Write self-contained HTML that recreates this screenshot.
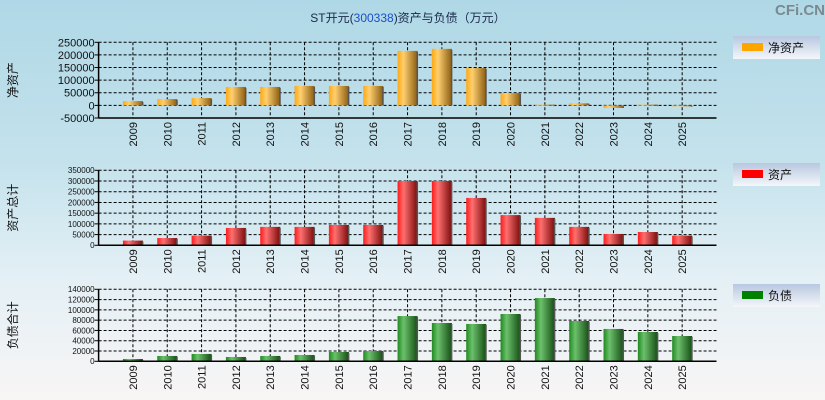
<!DOCTYPE html>
<html><head><meta charset="utf-8">
<style>
html,body{margin:0;padding:0;}
body{width:825px;height:400px;overflow:hidden;background:linear-gradient(#afd8e6 0%,#c4e2ec 40%,#e4f0f5 70%,#f8f5f5 100%);font-family:"Liberation Sans","Noto Sans CJK SC",sans-serif;}
</style></head><body>
<svg id="chart" width="825" height="400" xmlns="http://www.w3.org/2000/svg" style="position:absolute;left:0;top:0">
<defs>
<linearGradient id="gOr" x1="0" x2="1" y1="0" y2="0"><stop offset="0" stop-color="#ffa812"/><stop offset="0.3" stop-color="#ffcf70"/><stop offset="1" stop-color="#8a5c10"/></linearGradient>
<linearGradient id="gRd" x1="0" x2="1" y1="0" y2="0"><stop offset="0" stop-color="#ff1a1a"/><stop offset="0.3" stop-color="#ff7070"/><stop offset="1" stop-color="#7a0a0a"/></linearGradient>
<linearGradient id="gGr" x1="0" x2="1" y1="0" y2="0"><stop offset="0" stop-color="#1f8a1f"/><stop offset="0.3" stop-color="#6cc06c"/><stop offset="1" stop-color="#144d14"/></linearGradient>
<linearGradient id="gLeg" x1="0" x2="0" y1="0" y2="1"><stop offset="0" stop-color="#b8c8e0"/><stop offset="1" stop-color="#f4f6fa"/></linearGradient>
</defs>
<text x="408" y="22" text-anchor="middle" font-size="12" fill="#1a2a4a">ST开元(<tspan fill="#1a50c8">300338</tspan>)资产与负债（万元）</text>
<text x="800" y="15" text-anchor="middle" font-size="15" font-weight="bold" fill="#7a8a90">CFi.CN</text>
</svg>
<script>
var categories=["2009","2010","2011","2012","2013","2014","2015","2016","2017","2018","2019","2020","2021","2022","2023","2024","2025"];
var netAssets=[17000,25000,29000,73000,73000,77000,77000,77000,216000,224000,148000,49000,3000,8000,-10000,3000,-3000];
var totalAssets=[22000,34000,45000,81000,86000,86000,95000,95000,300000,300000,221000,141000,128000,86000,53000,62000,45000];
var totalLiabilities=[4500,10400,14300,8400,10400,12300,18100,20000,88000,74500,72600,92000,123000,78400,62900,57000,49200];
var ticks1=[-50000,0,50000,100000,150000,200000,250000];
var ticks2=[0,50000,100000,150000,200000,250000,300000,350000];
var ticks3=[0,20000,40000,60000,80000,100000,120000,140000];
var svg=document.getElementById('chart');
var NS='http://www.w3.org/2000/svg';
function mk(t,a,txt){var e=document.createElementNS(NS,t);for(var k in a)e.setAttribute(k,a[k]);if(txt!==undefined)e.textContent=txt;svg.appendChild(e);return e;}
var L=98.6,R=716.5,slot=(R-L)/18;
function xs(i){return L+(i+1)*slot;}
function panel(p){
  var ys=function(v){return p.bot-(v-p.min)/(p.max-p.min)*(p.bot-p.top);};
  var ttl=mk('text',{x:0,y:0,'font-size':12,fill:'#111','text-anchor':'middle',transform:'translate(17,'+((p.top+p.bot)/2)+') rotate(-90)'},p.title);
  
  
  p.ticks.forEach(function(t){
    var y=ys(t);
    var g=mk('line',{x1:L,x2:R,y1:y,y2:y,stroke:'#000','stroke-dasharray':'3,2','stroke-width':1});
    
    
    var tk=mk('line',{x1:L-4,x2:L,y1:y,y2:y,stroke:'#000'});
    
    
    var lb=mk('text',{x:L-4,y:y+p.fs*0.36,'font-size':p.fs,'text-anchor':'end',fill:'#111'},String(t));
    
    
  });
  categories.forEach(function(c,i){
    var x=xs(i);
    var g=mk('line',{x1:x,x2:x,y1:p.top,y2:p.axisY,stroke:'#000','stroke-dasharray':'3,2'});
    
    
  });
  var z=ys(0);
  categories.forEach(function(c,i){
    var v=p.data[i],x=xs(i),y=ys(v);
    var h=Math.abs(z-y),yy=Math.min(z,y);
    var b=mk('rect',{x:x-10,y:yy,width:20,height:Math.max(h,1),fill:'url(#'+p.grad+')'});
    
    
    var s=mk('rect',{x:x+9,y:yy+1,width:1.5,height:Math.max(h-1,0.5),fill:'#555'});
    
    
    var lb=mk('text',{x:0,y:0,'font-size':11,fill:'#111','text-anchor':'end',transform:'translate('+(x+4)+','+(p.axisY+4)+') rotate(-90)'},c);
    
    
  });
  var ax=mk('line',{x1:L,x2:R,y1:p.axisY,y2:p.axisY,stroke:'#000','stroke-width':1.5});
  
  
  var ay=mk('line',{x1:L,x2:L,y1:p.top,y2:p.axisY,stroke:'#000','stroke-width':1.5});
  
  
  var ly=p.legY;
  var lbx=mk('rect',{x:733,y:ly,width:87,height:23,fill:'url(#gLeg)'});
  
  
  var sw=mk('rect',{x:742,y:ly+7,width:21,height:8,fill:p.color});
  
  
  var lt=mk('text',{x:768,y:ly+16,'font-size':12,fill:'#111'},p.legend);
  
  
}
panel({key:'net-assets',title:'净资产',legend:'净资产',data:netAssets,ticks:ticks1,min:-50000,max:250000,top:42.3,bot:118,axisY:118,fs:11,grad:'gOr',color:'#ffa500',legY:36});
panel({key:'total-assets',title:'资产总计',legend:'资产',data:totalAssets,ticks:ticks2,min:0,max:350000,top:170.3,bot:245.3,axisY:245.3,fs:8,grad:'gRd',color:'#ff0000',legY:163});
panel({key:'total-liabilities',title:'负债合计',legend:'负债',data:totalLiabilities,ticks:ticks3,min:0,max:140000,top:289.3,bot:361.3,axisY:361.3,fs:8,grad:'gGr',color:'#008000',legY:284});
</script>
</body></html>
